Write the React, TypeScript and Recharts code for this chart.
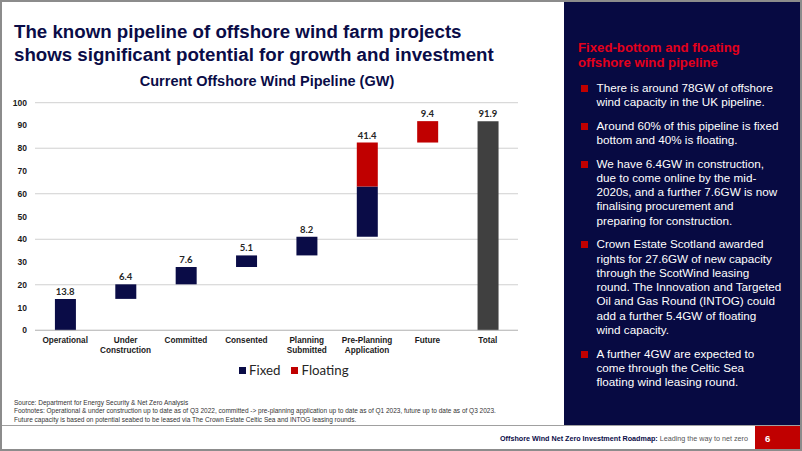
import React from 'react';
import { ComposedChart, Bar, Line, XAxis, YAxis, CartesianGrid, LabelList } from 'recharts';

const categories = [
  'Operational',
  'Under Construction',
  'Committed',
  'Consented',
  'Planning Submitted',
  'Pre-Planning Application',
  'Future',
  'Total',
];
const fixedGW = [13.8, 6.4, 7.6, 5.1, 8.2, 22.1, 0, 0];
const floatingGW = [0, 0, 0, 0, 0, 19.3, 9.4, 0];
const totalGW = [0, 0, 0, 0, 0, 0, 0, 91.9];
const yTicks = [0, 10, 20, 30, 40, 50, 60, 70, 80, 90, 100];

const bullets = [
  'There is around 78GW of offshore wind capacity in the UK pipeline.',
  'Around 60% of this pipeline is fixed bottom and 40% is floating.',
  'We have 6.4GW in construction, due to come online by the mid-2020s, and a further 7.6GW is now finalising procurement and preparing for construction.',
  'Crown Estate Scotland awarded rights for 27.6GW of new capacity through the ScotWind leasing round. The Innovation and Targeted Oil and Gas Round (INTOG) could add a further 5.4GW of floating wind capacity.',
  'A further 4GW are expected to come through the Celtic Sea floating wind leasing round.',
];

const NAVY = '#0a0c47';
const RED = '#c00000';
const ARIAL = '"Liberation Sans", Arial, sans-serif';

// waterfall: invisible base under each step, running total carried forward
let running = 0;
const chartData = categories.map((name, i) => {
  const step = fixedGW[i] + floatingGW[i] + totalGW[i];
  const base = totalGW[i] > 0 ? 0 : running;
  if (totalGW[i] === 0) running += step;
  return {
    name,
    base,
    fixed: fixedGW[i],
    floating: floatingGW[i],
    total: totalGW[i],
    top: base + step,
    label: step.toFixed(1),
  };
});

const CategoryTick = (props: any) => {
  const { x, y, payload } = props;
  const words = String(payload.value).split(' ');
  return (
    <text x={x} y={y + 12.5} textAnchor="middle" fill="#1a1a1a" fontSize={8.2} fontWeight="bold" fontFamily={ARIAL}>
      {words.map((w, i) => (
        <tspan key={w} x={x} dy={i === 0 ? 0 : 10.5}>{w}</tspan>
      ))}
    </text>
  );
};

export default function App() {
  return (
    <div style={{ position: 'absolute', left: 0, top: 0, width: 802, height: 451, background: '#fff', overflow: 'hidden', fontFamily: ARIAL }}>
      <div style={{ position: 'absolute', left: 14, top: 21, fontSize: 18.7, fontWeight: 'bold', color: NAVY, lineHeight: '22.5px', whiteSpace: 'nowrap' }}>
        The known pipeline of offshore wind farm projects<br />
        shows significant potential for growth and investment
      </div>
      <div style={{ position: 'absolute', left: 0, width: 534, top: 73, textAlign: 'center', fontSize: 14.5, fontWeight: 'bold', color: NAVY }}>
        Current Offshore Wind Pipeline (GW)
      </div>

      <div style={{ position: 'absolute', left: 0, top: 0 }}>
        <ComposedChart width={530} height={380} data={chartData} margin={{ top: 102.7, right: 12, left: 0, bottom: 20.7 }} barCategoryGap="33%">
          <CartesianGrid vertical={false} stroke="#d0d0d0" />
          <XAxis dataKey="name" interval={0} height={29} tickLine={false} tickSize={0} tickMargin={0} axisLine={{ stroke: '#bfbfbf' }} tick={<CategoryTick />} />
          <YAxis domain={[0, 100]} ticks={yTicks} width={35} axisLine={false} tickLine={false} tickSize={0} tickMargin={8}
            tick={{ fontSize: 8.5, fontWeight: 'bold', fill: '#1a1a1a', fontFamily: ARIAL }} />
          <Bar dataKey="base" stackId="w" fill="transparent" isAnimationActive={false} />
          <Bar dataKey="fixed" stackId="w" fill={NAVY} isAnimationActive={false} />
          <Bar dataKey="floating" stackId="w" fill={RED} isAnimationActive={false} />
          <Bar dataKey="total" stackId="w" fill="#404040" isAnimationActive={false} />
          <Line dataKey="top" stroke="none" dot={false} activeDot={false} isAnimationActive={false}>
            <LabelList dataKey="label" position="top" offset={4} fill="#262626" fontSize={9.5} fontWeight="bold" fontFamily="Lato, sans-serif" />
          </Line>
        </ComposedChart>
      </div>

      <div style={{ position: 'absolute', left: 239, top: 362, display: 'flex', alignItems: 'center', fontFamily: 'Lato, sans-serif', fontSize: 13.3, color: '#262626' }}>
        <span style={{ width: 7, height: 7, background: NAVY, marginRight: 3 }} />
        <span style={{ marginRight: 11 }}>Fixed</span>
        <span style={{ width: 7, height: 7, background: RED, marginRight: 3 }} />
        <span>Floating</span>
      </div>

      <div style={{ position: 'absolute', left: 14, top: 399, fontSize: 6.5, lineHeight: '8.4px', color: '#333', whiteSpace: 'nowrap' }}>
        Source: Department for Energy Security &amp; Net Zero Analysis<br />
        Footnotes: Operational &amp; under construction up to date as of Q3 2022, committed -&gt; pre-planning application up to date as of Q1 2023, future up to date as of Q3 2023.<br />
        Future capacity is based on potential seabed to be leased via The Crown Estate Celtic Sea and INTOG leasing rounds.
      </div>

      <div style={{ position: 'absolute', left: 564, top: 0, width: 238, height: 426, background: '#070a42' }}>
        <div style={{ position: 'absolute', left: 14, top: 40, fontSize: 13.2, fontWeight: 'bold', color: '#e3001b', lineHeight: '15px' }}>
          Fixed-bottom and floating<br />offshore wind pipeline
        </div>
        <div style={{ position: 'absolute', left: 17, top: 81, width: 201 }}>
          {bullets.map((b) => (
            <div key={b} style={{ display: 'flex', marginBottom: 9.2 }}>
              <span style={{ flex: '0 0 7px', height: 7, background: RED, marginTop: 4, marginRight: 8.5 }} />
              <span style={{ color: '#fff', fontSize: 11.7, lineHeight: '14.3px' }}>{b}</span>
            </div>
          ))}
        </div>
      </div>

      <div style={{ position: 'absolute', left: 0, top: 425, width: 802, height: 1, background: '#a0a0a0' }} />
      <div style={{ position: 'absolute', right: 54, top: 434, fontSize: 7.2, whiteSpace: 'nowrap' }}>
        <b style={{ color: NAVY }}>Offshore Wind Net Zero Investment Roadmap:</b>
        <span style={{ color: '#555' }}> Leading the way to net zero</span>
      </div>
      <div style={{ position: 'absolute', left: 755, top: 426, width: 47, height: 25, background: RED, color: '#fff', fontSize: 9.5, fontWeight: 'bold' }}>
        <span style={{ position: 'absolute', left: 10, top: 7 }}>6</span>
      </div>

      <div style={{ position: 'absolute', left: 0, top: 0, width: 802, height: 451, boxSizing: 'border-box', border: '2px solid #8c8c8c', pointerEvents: 'none' }} />
    </div>
  );
}
